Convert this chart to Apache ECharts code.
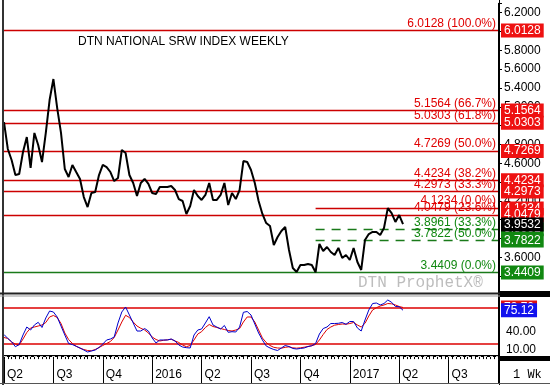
<!DOCTYPE html>
<html><head><meta charset="utf-8">
<script src="https://cdn.jsdelivr.net/npm/echarts@6/dist/echarts.min.js"></script>
<style>html,body{margin:0;padding:0;background:#fff}#c{width:550px;height:385px}</style>
</head><body><div id="c"></div>
<script>
const chartTitle = 'DTN NATIONAL SRW INDEX WEEKLY';
const weekCount = 131;
const weeksPerQuarter = 13;
const quarterLabels = ['Q2','Q3','Q4','2016','Q2','Q3','Q4','2017','Q2','Q3'];

const priceValues = [
 5.038,4.752,4.635,4.475,4.486,4.720,4.879,4.550,4.922,4.794,
 4.613,4.922,5.272,5.495,5.187,4.922,4.539,4.454,4.582,4.507,
 4.433,4.241,4.135,4.284,4.295,4.475,4.582,4.560,4.507,4.411,
 4.443,4.741,4.709,4.475,4.390,4.252,4.390,4.433,4.380,4.284,
 4.273,4.348,4.348,4.348,4.358,4.316,4.220,4.199,4.061,4.146,
 4.316,4.252,4.210,4.263,4.390,4.210,4.210,4.263,4.390,4.156,
 4.284,4.220,4.316,4.624,4.613,4.528,4.390,4.199,4.061,3.965,
 3.933,3.731,3.816,3.880,3.923,3.678,3.487,3.445,3.519,3.519,
 3.529,3.519,3.4409,3.742,3.668,3.710,3.657,3.625,3.700,3.593,
 3.625,3.572,3.700,3.551,3.466,3.785,3.848,3.870,3.870,3.838,
 3.912,4.1234,4.071,3.976,4.050,3.9532
];
const kValues = [
 35.4,28.9,23.6,15.4,19.0,34.6,47.7,42.8,51.0,55.4,
 46.9,62.5,73.9,72.3,64.1,49.3,34.6,20.7,18.9,16.1,
 13.3,10.0,6.7,8.4,10.0,14.1,19.8,26.4,28.0,31.3,
 54.3,72.3,80.5,67.4,54.3,41.1,41.1,45.2,41.1,29.7,
 21.5,26.4,26.4,26.4,28.0,24.8,18.2,14.9,13.8,13.3,
 34.6,42.8,44.4,54.3,64.6,51.0,47.7,44.4,50.2,39.0,
 40.0,39.5,47.7,71.8,73.1,67.4,52.6,37.9,26.4,16.6,
 13.3,10.8,9.2,13.3,17.4,15.7,12.5,11.6,12.5,13.3,
 15.7,17.0,20.7,36.2,45.2,47.7,53.4,53.4,53.8,55.1,
 52.1,56.7,56.7,46.1,41.1,59.2,75.6,86.2,87.0,83.8,
 86.2,92.0,88.2,81.3,81.0,75.12
];
const dValues = [
 30.5,28.9,23.1,19.8,18.2,28.0,38.7,46.1,47.7,49.3,
 51.0,55.1,64.1,66.6,63.3,53.4,37.9,27.2,20.7,16.1,
 13.0,10.8,9.2,8.7,10.8,14.1,17.4,20.7,23.9,30.5,
 42.8,55.9,66.9,63.3,55.9,49.3,45.6,42.8,37.9,31.3,
 27.2,24.8,25.9,26.7,27.7,24.8,22.3,18.2,15.4,17.4,
 26.4,36.2,40.0,46.9,51.8,48.5,46.9,45.2,43.6,42.0,
 41.1,42.8,45.2,55.9,64.1,64.1,55.9,42.8,29.7,22.3,
 17.4,14.4,13.3,13.0,14.4,15.2,13.6,13.0,13.6,14.6,
 15.7,17.0,19.0,26.4,35.4,43.6,47.7,50.7,51.8,52.6,
 52.3,53.4,55.1,51.0,47.7,53.8,65.7,75.6,79.3,82.1,
 83.8,86.2,85.7,83.8,81.3,79.7
];

const redFibValues = [6.0128, 5.1564, 5.0303, 4.7269, 4.4234, 4.2973, 4.0479];
const redFibPct = ['100.0%', '66.7%', '61.8%', '50.0%', '38.2%', '33.3%', '23.6%'];
const shortRedValue = 4.1234, shortRedPct = '0.0%';
const greenFibValues = [3.8961, 3.7822];
const greenFibPct = ['33.3%', '50.0%'];
const greenBaseValue = 3.4409, greenBasePct = '0.0%';
const fibStartWeek = 82;
const oscBands = [80, 20];
const oscLabelValues = [10, 40, 70];

const RED = '#e00000', RED_LINE = '#cc0000', GREEN = '#118811', GREEN_LINE = '#1a7a1a';
const categories = Array.from({length: weekCount}, (_, i) => String(i));
const lastWeek = weekCount - 1;

const insideLabel = (color, txt) => ({show: true, position: 'insideEndTop', distance: [2, 1], color: color, fontSize: 12, formatter: txt});
const fibLines = [];
redFibValues.forEach((v, i) => fibLines.push({yAxis: v, lineStyle: {color: RED_LINE, width: 1.3, type: 'solid'}, label: insideLabel(RED, v.toFixed(4) + ' (' + redFibPct[i] + ')')}));
fibLines.push([{coord: [fibStartWeek, shortRedValue], lineStyle: {color: RED_LINE, width: 1.3, type: 'solid'}, label: insideLabel(RED, shortRedValue.toFixed(4) + ' (' + shortRedPct + ')')}, {coord: [lastWeek, shortRedValue]}]);
greenFibValues.forEach((v, i) => fibLines.push([{coord: [fibStartWeek, v], lineStyle: {color: GREEN_LINE, width: 1.3, type: [9, 7]}, label: insideLabel(GREEN, v.toFixed(4) + ' (' + greenFibPct[i] + ')')}, {coord: [lastWeek, v]}]));
fibLines.push({yAxis: greenBaseValue, lineStyle: {color: GREEN_LINE, width: 1.3, type: 'solid'}, label: insideLabel(GREEN, greenBaseValue.toFixed(4) + ' (' + greenBasePct + ')')});

const boxLabel = (bg, txt) => ({show: true, opacity: 1, position: 'end', distance: 3, color: '#fff', backgroundColor: bg, fontSize: 12, padding: [1, 3, 0, 3], lineHeight: 13, formatter: txt});
const hiddenLine = {color: 'rgba(0,0,0,0)', width: 0};
const boxes = [];
redFibValues.slice(0, 6).forEach(v => boxes.push({yAxis: v, lineStyle: hiddenLine, label: boxLabel('#ee1111', v.toFixed(4))}));
boxes.push({yAxis: shortRedValue, lineStyle: hiddenLine, label: boxLabel('#ee1111', shortRedValue.toFixed(4))});
boxes.push({yAxis: redFibValues[6], lineStyle: hiddenLine, label: boxLabel('#ee1111', redFibValues[6].toFixed(4))});
boxes.push({yAxis: greenFibValues[0], lineStyle: hiddenLine, label: boxLabel('#118811', greenFibValues[0].toFixed(4))});
boxes.push({yAxis: greenFibValues[1], lineStyle: hiddenLine, label: boxLabel('#118811', greenFibValues[1].toFixed(4))});
boxes.push({yAxis: greenBaseValue, lineStyle: hiddenLine, label: boxLabel('#118811', greenBaseValue.toFixed(4))});
const lastPrice = priceValues[priceValues.length - 1];
boxes.push({yAxis: lastPrice, lineStyle: hiddenLine, label: boxLabel('#000', lastPrice.toFixed(4))});

const lastK = kValues[kValues.length - 1], lastD = dValues[dValues.length - 1];

const chart = echarts.init(document.getElementById('c'), null, {renderer: 'canvas'});
chart.setOption({
  animation: false,
  backgroundColor: '#fff',
  textStyle: {fontFamily: 'Liberation Sans, Arial, sans-serif'},
  grid: [
    {left: 4, right: 52, top: 3.3, height: 291.7},
    {left: 4, right: 52, top: 295.1, height: 64.05}
  ],
  xAxis: [
    {type: 'category', gridIndex: 0, data: categories, boundaryGap: false, show: false},
    {type: 'category', gridIndex: 1, data: categories, boundaryGap: false, position: 'bottom',
      axisLine: {show: true, lineStyle: {color: '#000', width: 2}},
      axisTick: {show: true, interval: 0, length: 3, lineStyle: {color: '#000'}},
      axisLabel: {show: false}},
    {type: 'category', gridIndex: 1, data: categories, boundaryGap: false, position: 'bottom',
      axisLine: {show: false},
      axisTick: {show: true, length: 24, interval: (i) => i % weeksPerQuarter === 0, lineStyle: {color: '#000'}},
      axisLabel: {show: true, interval: (i) => i % weeksPerQuarter === 0 && i / weeksPerQuarter < quarterLabels.length,
        formatter: (v, i) => quarterLabels[Math.round(i / weeksPerQuarter)] || '',
        align: 'left', padding: [0, 0, 0, 3], margin: 10, fontSize: 12, color: '#000'}}
  ],
  yAxis: [
    {type: 'value', gridIndex: 0, position: 'right', min: 3.2, max: 6.3, interval: 0.2,
      axisLine: {show: true, lineStyle: {color: '#000'}},
      axisTick: {show: true, length: 4, lineStyle: {color: '#000'}},
      splitLine: {show: false},
      axisLabel: {color: '#000', fontSize: 12, margin: 6,
        formatter: v => (v < 3.3 || v > 6.25) ? '' : v.toFixed(4)}},
    {type: 'value', gridIndex: 1, position: 'right', min: -5, max: 100, interval: 15,
      axisLine: {show: true, lineStyle: {color: '#000'}},
      axisTick: {show: false},
      splitLine: {show: false},
      axisLabel: {color: '#000', fontSize: 12, margin: 8,
        formatter: v => oscLabelValues.some(o => Math.abs(o - v) < 0.01) ? v.toFixed(2) : ''}}
  ],
  series: [
    {type: 'line', xAxisIndex: 0, yAxisIndex: 0, data: priceValues, showSymbol: false, symbol: 'none',
      lineStyle: {color: '#000', width: 2}, z: 5,
      markLine: {silent: true, symbol: ['none', 'none'], animation: false, data: fibLines}},
    {type: 'line', xAxisIndex: 0, yAxisIndex: 0, data: priceValues, showSymbol: false, symbol: 'none',
      lineStyle: {color: 'rgba(0,0,0,0)', width: 0}, z: 8, silent: true,
      markLine: {silent: true, symbol: ['none', 'none'], animation: false, data: boxes}},
    {type: 'line', xAxisIndex: 1, yAxisIndex: 1, data: dValues, showSymbol: false, symbol: 'none',
      lineStyle: {color: '#dd0000', width: 1}, z: 4,
      markLine: {silent: true, symbol: ['none', 'none'], animation: false,
        data: oscBands.map(v => ({yAxis: v, lineStyle: {color: '#dd0000', width: 1.5, type: 'solid'}, label: {show: false}}))
          .concat([{yAxis: 0, lineStyle: {color: '#cccccc', width: 1, type: [3, 3]}, label: {show: false}}])}},
    {type: 'line', xAxisIndex: 1, yAxisIndex: 1, data: kValues, showSymbol: false, symbol: 'none',
      lineStyle: {color: '#0000cc', width: 1}, z: 5},
    {type: 'line', xAxisIndex: 1, yAxisIndex: 1, data: kValues, showSymbol: false, symbol: 'none',
      lineStyle: {color: 'rgba(0,0,0,0)', width: 0}, z: 8, silent: true,
      markLine: {silent: true, symbol: ['none', 'none'], animation: false,
        data: [
          {yAxis: lastD, lineStyle: hiddenLine, label: boxLabel('#dd1111', lastD.toFixed(2))},
          {yAxis: lastK, lineStyle: hiddenLine, label: boxLabel('#1111ee', lastK.toFixed(2))}
        ]}}
  ],
  graphic: [
    {type: 'text', left: 78, top: 36, z: 10, style: {text: chartTitle, font: '12px "Liberation Sans", Arial, sans-serif', fill: '#000'}},
    {type: 'text', left: 358, top: 275, z: 10, style: {text: 'DTN ProphetX®', font: '16px "Liberation Mono", monospace', fill: '#bdbdbd'}},
    {type: 'text', left: 513, top: 369, z: 10, style: {text: '1 Wk', font: '12px "Liberation Mono", monospace', fill: '#000'}},
    {type: 'line', z: 20, shape: {x1: 3, y1: 0, x2: 3, y2: 385}, style: {stroke: '#333', lineWidth: 2}},
    {type: 'line', z: 20, shape: {x1: 499.5, y1: 0, x2: 499.5, y2: 385}, style: {stroke: '#000', lineWidth: 1}},
    {type: 'line', z: 20, shape: {x1: 0, y1: 293.5, x2: 550, y2: 293.5}, style: {stroke: '#222', lineWidth: 2}},
    {type: 'line', z: 20, shape: {x1: 0, y1: 296, x2: 500, y2: 296}, style: {stroke: '#999', lineWidth: 1}},
    {type: 'rect', z: 20, shape: {x: 500, y: 291, width: 50, height: 6}, style: {fill: '#000'}},
    {type: 'rect', z: 20, shape: {x: 500, y: 356, width: 50, height: 5}, style: {fill: '#000'}},
    {type: 'line', z: 20, shape: {x1: 0, y1: 383.5, x2: 550, y2: 383.5}, style: {stroke: '#555', lineWidth: 1}}
  ]
});
</script></body></html>
